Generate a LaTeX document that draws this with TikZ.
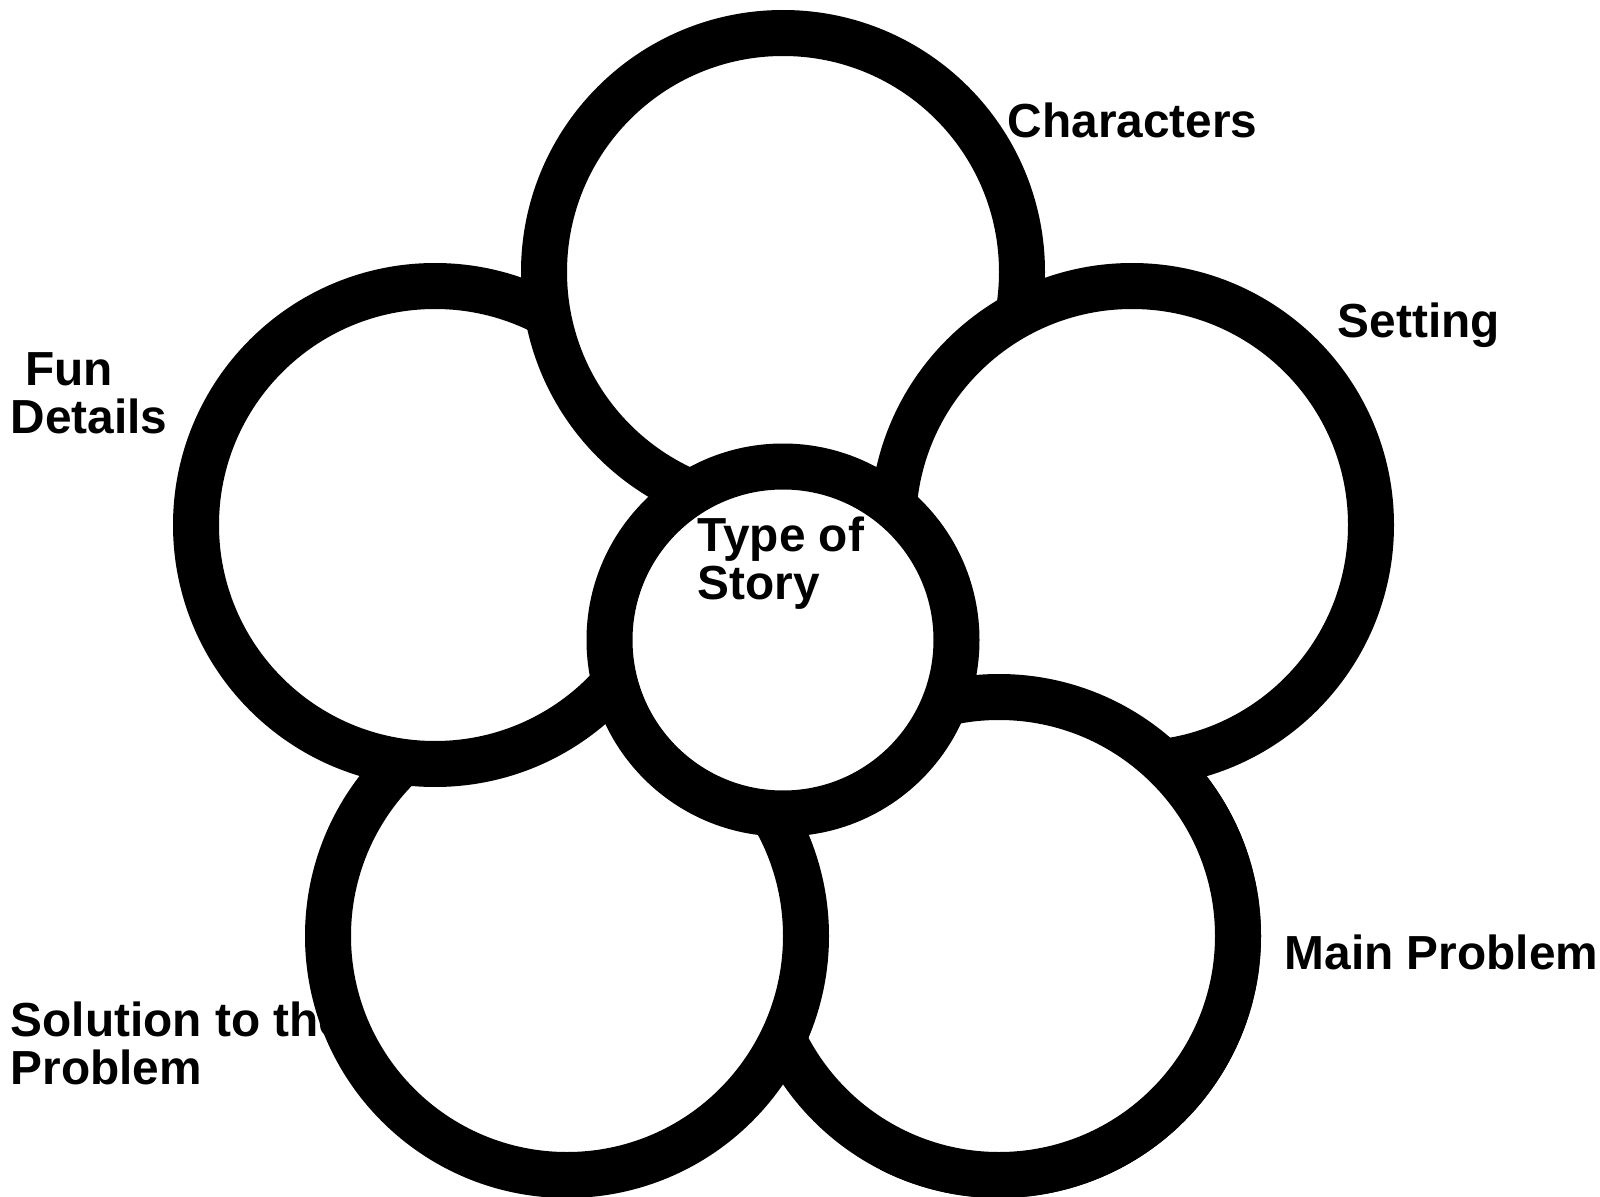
\documentclass[tikz,border=0pt]{standalone}
\usepackage{fontspec}
\setmainfont{Liberation Sans}
\tikzset{
  petal/.style={circle, draw=black, fill=white, line width=4.6mm,
    minimum size=47.8mm, inner sep=0pt},
  hub/.style={petal, minimum size=34.7mm},
  petaltext/.style={font=\bfseries\fontsize{13.6}{13.4}\selectfont,
    align=left, inner sep=0pt, anchor=base west}
}
\begin{document}
\begin{tikzpicture}[x=0.1mm, y=-0.1mm]
  \useasboundingbox (0,0) rectangle (1600,1197);
  \node[petaltext] (characterstext) at (1007,138) {Characters};
  \node[petaltext] (settingtext) at (1337,337) {Setting};
  \node[petaltext] (funtext) at (10,433) {\hspace*{0.3em}Fun\\Details};
  \node[petaltext] (problemtext) at (1284,969) {Main Problem};
  \node[petaltext] (solutiontext) at (10,1084) {Solution to the\\Problem};
  \node[petal] (problem) at (999,936) {};
  \node[petal] (solution) at (567,936) {};
  \node[petal] (fun) at (435,525) {};
  \node[petal] (characters) at (783,272) {};
  \node[petal] (setting) at (1132,525) {};
  \begin{scope}
    \clip (880,600) rectangle (1600,1197);
    \node[petal] (problemover) at (problem) {};
  \end{scope}
  \node[hub] (story) at (783,640) {};
  \node[petaltext] (storytext) at (697,599) {Type of\\Story};
\end{tikzpicture}
\end{document}
